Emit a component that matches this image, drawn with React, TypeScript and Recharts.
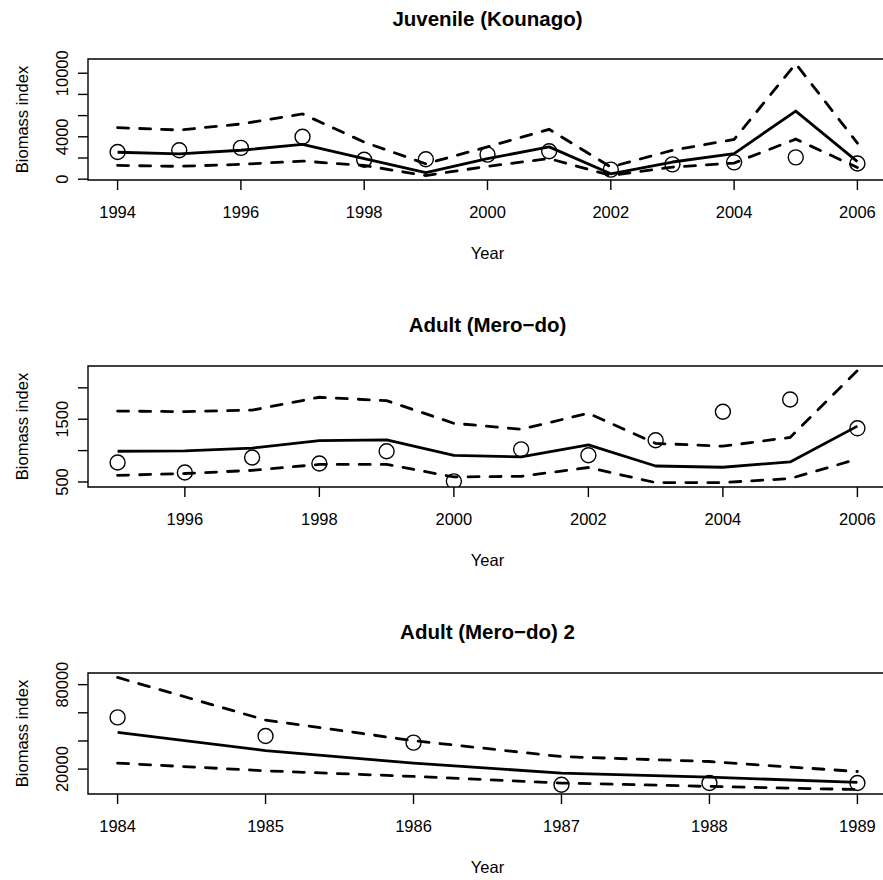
import React from "react";
import { ComposedChart, Line, XAxis, YAxis, ReferenceArea, Label } from "recharts";

// ---- Juvenile (Kounago) ----
const juvYears = [1994, 1995, 1996, 1997, 1998, 1999, 2000, 2001, 2002, 2003, 2004, 2005, 2006];
const juvObserved = [2570, 2730, 2950, 4000, 1830, 1880, 2320, 2640, 900, 1400, 1590, 2060, 1480];
const juvFitted = [2540, 2380, 2730, 3280, 1940, 610, 1940, 3050, 510, 1620, 2420, 6430, 1650];
const juvUpper = [4860, 4640, 5210, 6160, 3500, 1450, 3050, 4700, 1150, 2730, 3750, 10900, 3400];
const juvLower = [1300, 1210, 1400, 1710, 1290, 345, 1210, 1940, 350, 1140, 1520, 3780, 1100];
const juvXTicks = [1994, 1996, 1998, 2000, 2002, 2004, 2006];
const juvYTicks = [0, 2000, 4000, 6000, 8000, 10000];
const juvYLabels = [0, 4000, 10000];

// ---- Adult (Mero-do) ----
const adultYears = [1995, 1996, 1997, 1998, 1999, 2000, 2001, 2002, 2003, 2004, 2005, 2006];
const adultObserved = [810, 650, 890, 795, 990, 510, 1020, 925, 1165, 1620, 1815, 1355];
const adultFitted = [990, 995, 1040, 1160, 1170, 925, 900, 1090, 755, 735, 820, 1390];
const adultUpper = [1630, 1620, 1645, 1850, 1795, 1435, 1340, 1595, 1115, 1070, 1210, 2275];
const adultLower = [605, 635, 685, 780, 780, 580, 590, 730, 490, 490, 555, 865];
const adultXTicks = [1996, 1998, 2000, 2002, 2004, 2006];
const adultYTicks = [500, 1000, 1500, 2000];
const adultYLabels = [500, 1500];

// ---- Adult (Mero-do) 2 ----
const adult2Years = [1984, 1985, 1986, 1987, 1988, 1989];
const adult2Observed = [56750, 43500, 38800, 8900, 10100, 10100];
const adult2Fitted = [46150, 33150, 24250, 17150, 14350, 10550];
const adult2Upper = [85100, 54850, 40200, 28900, 25400, 18300];
const adult2Lower = [24250, 18800, 14800, 10100, 7700, 5500];
const adult2XTicks = [1984, 1985, 1986, 1987, 1988, 1989];
const adult2YTicks = [20000, 40000, 60000, 80000];
const adult2YLabels = [20000, 80000];

const FONT = "'Liberation Sans', Arial, Helvetica, sans-serif";
const AXIS_FONT_SIZE = 16.5;

type Row = { year: number; obs: number; fit: number; lo: number; hi: number };

const buildRows = (
  years: number[],
  obs: number[],
  fit: number[],
  lo: number[],
  hi: number[]
): Row[] => years.map((year, i) => ({ year, obs: obs[i], fit: fit[i], lo: lo[i], hi: hi[i] }));

type PanelProps = {
  top: number;
  rows: Row[];
  xDomain: [number, number];
  xTicks: number[];
  yDomain: [number, number];
  yTicks: number[];
  yLabels: number[];
};

const CHART_W = 900;
const MARGIN_TOP = 30;
const PLOT_H = 121;
const X_AXIS_H = 90;
const Y_AXIS_W = 88;
const PLOT_RIGHT = 887;

const XTick = (props: any) => {
  const { x, y, payload } = props;
  return (
    <text x={x} y={y + 28} textAnchor="middle" fontSize={AXIS_FONT_SIZE} fontFamily={FONT} fill="#000">
      {payload.value}
    </text>
  );
};

// y tick labels run parallel to the axis; only some values carry a label
const makeYTick = (shown: number[]) => (props: any) => {
  const { x, y, payload } = props;
  if (!shown.includes(payload.value)) return <g />;
  const bx = x - 10;
  return (
    <text
      x={bx}
      y={y}
      transform={`rotate(-90, ${bx}, ${y})`}
      textAnchor="middle"
      fontSize={AXIS_FONT_SIZE}
      fontFamily={FONT}
      fill="#000"
    >
      {payload.value}
    </text>
  );
};

const YTitle = (props: any) => {
  const vb = props.viewBox || { x: 0, y: MARGIN_TOP, width: Y_AXIS_W, height: PLOT_H };
  const cy = vb.y + vb.height / 2;
  const bx = 28;
  return (
    <text
      x={bx}
      y={cy}
      transform={`rotate(-90, ${bx}, ${cy})`}
      textAnchor="middle"
      fontSize={AXIS_FONT_SIZE}
      fontFamily={FONT}
      fill="#000"
    >
      Biomass index
    </text>
  );
};

const XTitle = (props: any) => {
  const vb = props.viewBox || {
    x: Y_AXIS_W,
    y: MARGIN_TOP + PLOT_H,
    width: PLOT_RIGHT - Y_AXIS_W,
    height: X_AXIS_H,
  };
  return (
    <text
      x={vb.x + vb.width / 2}
      y={vb.y + 79}
      textAnchor="middle"
      fontSize={AXIS_FONT_SIZE}
      fontFamily={FONT}
      fill="#000"
    >
      Year
    </text>
  );
};

const Panel = ({ top, rows, xDomain, xTicks, yDomain, yTicks, yLabels }: PanelProps) => (
  <div style={{ position: "absolute", left: 0, top: top - MARGIN_TOP }}>
    <ComposedChart
      width={CHART_W}
      height={MARGIN_TOP + PLOT_H + X_AXIS_H}
      data={rows}
      margin={{ top: MARGIN_TOP, right: CHART_W - PLOT_RIGHT, left: 0, bottom: 0 }}
    >
      <XAxis
        dataKey="year"
        type="number"
        domain={xDomain}
        ticks={xTicks}
        allowDataOverflow
        interval={0}
        height={X_AXIS_H}
        axisLine={false}
        tickLine={{ stroke: "#000", strokeWidth: 1.4 }}
        tickSize={10}
        tickMargin={0}
        tick={<XTick />}
      >
        <Label content={<XTitle />} />
      </XAxis>
      <YAxis
        type="number"
        domain={yDomain}
        ticks={yTicks}
        allowDataOverflow
        interval={0}
        width={Y_AXIS_W}
        axisLine={false}
        tickLine={{ stroke: "#000", strokeWidth: 1.4 }}
        tickSize={10}
        tickMargin={0}
        tick={makeYTick(yLabels)}
      >
        <Label content={<YTitle />} />
      </YAxis>
      <ReferenceArea
        x1={xDomain[0]}
        x2={xDomain[1]}
        y1={yDomain[0]}
        y2={yDomain[1]}
        fill="none"
        stroke="#000"
        strokeWidth={1.4}
        ifOverflow="visible"
      />
      <Line
        dataKey="hi"
        type="linear"
        stroke="#000"
        strokeWidth={2.8}
        strokeDasharray="11 11"
        strokeLinecap="round"
        dot={false}
        isAnimationActive={false}
      />
      <Line
        dataKey="lo"
        type="linear"
        stroke="#000"
        strokeWidth={2.8}
        strokeDasharray="11 11"
        strokeLinecap="round"
        dot={false}
        isAnimationActive={false}
      />
      <Line
        dataKey="fit"
        type="linear"
        stroke="#000"
        strokeWidth={2.8}
        strokeLinejoin="round"
        dot={false}
        isAnimationActive={false}
      />
      <Line
        dataKey="obs"
        type="linear"
        stroke="none"
        dot={{ r: 7.5, fill: "none", stroke: "#000", strokeWidth: 1.4 }}
        isAnimationActive={false}
      />
    </ComposedChart>
  </div>
);

const titles = [
  { text: "Juvenile (Kounago)", y: 25.5 },
  { text: "Adult (Mero\u2212do)", y: 332 },
  { text: "Adult (Mero\u2212do) 2", y: 639 },
];

export default function App() {
  return (
    <div
      style={{
        position: "absolute",
        left: 0,
        top: 0,
        width: 883,
        height: 880,
        overflow: "hidden",
        background: "#fff",
      }}
    >
      <Panel
        top={59}
        rows={buildRows(juvYears, juvObserved, juvFitted, juvLower, juvUpper)}
        xDomain={[1993.52, 2006.48]}
        xTicks={juvXTicks}
        yDomain={[-78, 11343]}
        yTicks={juvYTicks}
        yLabels={juvYLabels}
      />
      <Panel
        top={366}
        rows={buildRows(adultYears, adultObserved, adultFitted, adultLower, adultUpper)}
        xDomain={[1994.56, 2006.44]}
        xTicks={adultXTicks}
        yDomain={[420, 2348]}
        yTicks={adultYTicks}
        yLabels={adultYLabels}
      />
      <Panel
        top={673}
        rows={buildRows(adult2Years, adult2Observed, adult2Fitted, adult2Lower, adult2Upper)}
        xDomain={[1983.8, 1989.2]}
        xTicks={adult2XTicks}
        yDomain={[2330, 88270]}
        yTicks={adult2YTicks}
        yLabels={adult2YLabels}
      />
      <svg
        width={883}
        height={880}
        style={{ position: "absolute", left: 0, top: 0, pointerEvents: "none" }}
      >
        {titles.map((t) => (
          <text
            key={t.text}
            x={487.5}
            y={t.y}
            textAnchor="middle"
            fontSize={20.5}
            fontWeight="bold"
            fontFamily={FONT}
            fill="#000"
          >
            {t.text}
          </text>
        ))}
      </svg>
    </div>
  );
}
